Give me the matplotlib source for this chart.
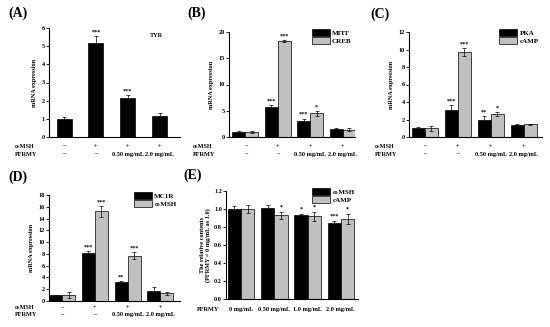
import numpy as np
import matplotlib
matplotlib.use("Agg")
import matplotlib.pyplot as plt

plt.rcParams["font.family"] = ["Liberation Serif", "DejaVu Serif"]
plt.rcParams["font.weight"] = "bold"

# (A) TYR
tyr = [1.0, 5.2, 2.15, 1.15]
tyr_err = [0.1, 0.35, 0.15, 0.15]
tyr_star = ["", "***", "***", ""]

# (B) MITF / CREB
mitf = [1.0, 5.7, 3.0, 1.6]
mitf_err = [0.15, 0.4, 0.5, 0.2]
mitf_star = ["", "***", "***", ""]
creb = [1.0, 18.3, 4.5, 1.4]
creb_err = [0.15, 0.2, 0.5, 0.25]
creb_star = ["", "***", "*", ""]

# (C) PKA / cAMP
pka = [1.0, 3.05, 2.0, 1.4]
pka_err = [0.1, 0.6, 0.35, 0.05]
pka_star = ["", "***", "**", ""]
camp = [1.0, 9.7, 2.65, 1.45]
camp_err = [0.3, 0.45, 0.2, 0.05]
camp_star = ["", "***", "*", ""]

# (D) MC1R / a-MSH
mc1r = [1.0, 8.1, 3.2, 1.7]
mc1r_err = [0.1, 0.4, 0.2, 0.6]
mc1r_star = ["", "***", "**", ""]
amsh = [1.0, 15.2, 7.7, 1.3]
amsh_err = [0.5, 0.9, 0.6, 0.2]
amsh_star = ["", "***", "***", ""]

# (E) relative contents
e_amsh = [1.0, 1.01, 0.93, 0.84]
e_amsh_err = [0.03, 0.04, 0.02, 0.03]
e_amsh_star = ["", "", "*", "***"]
e_camp = [1.0, 0.93, 0.92, 0.89]
e_camp_err = [0.04, 0.04, 0.05, 0.06]
e_camp_star = ["", "*", "*", "*"]

msh_row = ["\u2013", "+", "+", "+"]
pfrmy_row = ["\u2013", "\u2013", "0.50 mg/mL", "2.0 mg/mL"]
e_row = ["0 mg/mL", "0.50 mg/mL", "1.0 mg/mL", "2.0 mg/mL"]

W, H = 550, 327
fig = plt.figure(figsize=(5.5, 3.27), dpi=100)


def px_axes(l, r, t, b):
    return fig.add_axes([l / W, (H - b) / H, (r - l) / W, (b - t) / H])


def style(ax, ylim, yticks, xlim, fmt="%d"):
    ax.set_ylim(*ylim)
    ax.set_xlim(*xlim)
    ax.set_yticks(yticks)
    ax.set_yticklabels([fmt % v for v in yticks], fontsize=4.5, fontweight="bold")
    ax.set_xticks([])
    for s in ["top", "right"]:
        ax.spines[s].set_visible(False)
    for s in ["left", "bottom"]:
        ax.spines[s].set_linewidth(0.8)
    ax.tick_params(axis="y", length=2, width=0.6, pad=1)


def bars(ax, x, vals, errs, stars, color, w, top):
    b = ax.bar(x, vals, w, color=color, edgecolor="black", linewidth=0.5, zorder=2)
    ax.errorbar(x, vals, yerr=errs, fmt="none", ecolor="black", elinewidth=0.5,
                capsize=1.2, capthick=0.5, zorder=3)
    for xi, v, e, s in zip(x, vals, errs, stars):
        if s:
            ax.text(xi, v + e + top * 0.015, s, ha="center", va="bottom",
                    fontsize=4.5, fontweight="bold")
    return b


def legend(ax, handles, names):
    ax.legend(handles, names, loc="upper right", fontsize=5, frameon=False,
              handlelength=2.6, handleheight=1.2, borderaxespad=0.1, labelspacing=0.15,
              handletextpad=0.3, bbox_to_anchor=(1.0, 1.06))


def ax_y_px(ax, yfrac):
    pos = ax.get_position()
    yfig = pos.y0 + yfrac * pos.height
    return (1 - yfig) * H


def rows(ax, y1, y2, labels1, labels2, name1, name2, xname):
    tr = ax.get_xaxis_transform()
    for i in range(4):
        if labels1 is not None:
            ax.text(i, y1, labels1[i], transform=tr, ha="center", va="center",
                    fontsize=4.5, fontweight="bold")
        ax.text(i, y2, labels2[i], transform=tr, ha="center", va="center",
                fontsize=4.5, fontweight="bold")
    if name1:
        fig.text(xname / W, 1 - ax_y_px(ax, y1) / H, name1, ha="left", va="center",
                 fontsize=4.5, fontweight="bold")
    fig.text(xname / W, 1 - ax_y_px(ax, y2) / H, name2, ha="left", va="center",
             fontsize=4.5, fontweight="bold")


x = np.arange(4)
bw = 0.4
black = "#000000"
grey = "#c0c0c0"

# (A)
axA = px_axes(49, 180, 28, 137)
style(axA, (0, 6), range(0, 7), (-0.47, 3.63))
bars(axA, x, tyr, tyr_err, tyr_star, black, 0.47, 6)
axA.text(0.82, 0.93, "TYR", transform=axA.transAxes, fontsize=4.5, fontweight="bold",
         ha="center", va="center")
axA.set_ylabel("mRNA expression", fontsize=4.5, fontweight="bold", labelpad=3)
rows(axA, -0.083, -0.156, msh_row, pfrmy_row, "\u03b1-MSH", "PFRMY", 15)

# (B)
axB = px_axes(229, 355, 32, 137)
style(axB, (0, 20), [0, 5, 10, 15, 20], (-0.5, 3.38))
h1 = bars(axB, x - bw / 2, mitf, mitf_err, mitf_star, black, bw, 20)
h2 = bars(axB, x + bw / 2, creb, creb_err, creb_star, grey, bw, 20)
axB.set_ylabel("mRNA expression", fontsize=4.5, fontweight="bold", labelpad=3)
legend(axB, [h1, h2], ["MITF", "CREB"])
rows(axB, -0.086, -0.162, msh_row, pfrmy_row, "\u03b1-MSH", "PFRMY", 193)

# (C)
axC = px_axes(409, 542, 32, 137)
style(axC, (0, 12), range(0, 13, 2), (-0.48, 3.55))
h1 = bars(axC, x - bw / 2, pka, pka_err, pka_star, black, bw, 12)
h2 = bars(axC, x + bw / 2, camp, camp_err, camp_star, grey, bw, 12)
axC.set_ylabel("mRNA expression", fontsize=4.5, fontweight="bold", labelpad=3)
legend(axC, [h1, h2], ["PKA", "cAMP"])
rows(axC, -0.086, -0.162, msh_row, pfrmy_row, "\u03b1-MSH", "PFRMY", 375)

# (D)
axD = px_axes(49, 180, 195, 301)
style(axD, (0, 18), range(0, 19, 2), (-0.4, 3.6))
h1 = bars(axD, x - bw / 2, mc1r, mc1r_err, mc1r_star, black, bw, 18)
h2 = bars(axD, x + bw / 2, amsh, amsh_err, amsh_star, grey, bw, 18)
axD.set_ylabel("mRNA expression", fontsize=4.5, fontweight="bold", labelpad=3)
legend(axD, [h1, h2], ["MC1R", "\u03b1-MSH"])
rows(axD, -0.06, -0.13, msh_row, pfrmy_row, "\u03b1-MSH", "PFRMY", 15)

# (E)
axE = px_axes(226, 358, 191, 299)
style(axE, (0, 1.2), [0, 0.2, 0.4, 0.6, 0.8, 1.0, 1.2], (-0.45, 3.51), fmt="%.1f")
h1 = bars(axE, x - bw / 2, e_amsh, e_amsh_err, e_amsh_star, black, bw, 1.2)
h2 = bars(axE, x + bw / 2, e_camp, e_camp_err, e_camp_star, grey, bw, 1.2)
axE.set_ylabel("The relative contents\n(PFRMY = 0 mg/mL as 1.0)", fontsize=4.5,
               fontweight="bold", labelpad=2, linespacing=1.0)
legend(axE, [h1, h2], ["\u03b1-MSH", "cAMP"])
rows(axE, None, -0.1, None, e_row, None, "PFRMY", 197)

# panel letters
for lbl, px, py in [("(A)", 8, 13), ("(B)", 187, 13), ("(C)", 370, 14),
                    ("(D)", 8, 177), ("(E)", 183, 175)]:
    fig.text(px / W, 1 - py / H, lbl, fontsize=10, fontweight="bold",
             ha="left", va="center")

fig.savefig("out.png", dpi=100)
